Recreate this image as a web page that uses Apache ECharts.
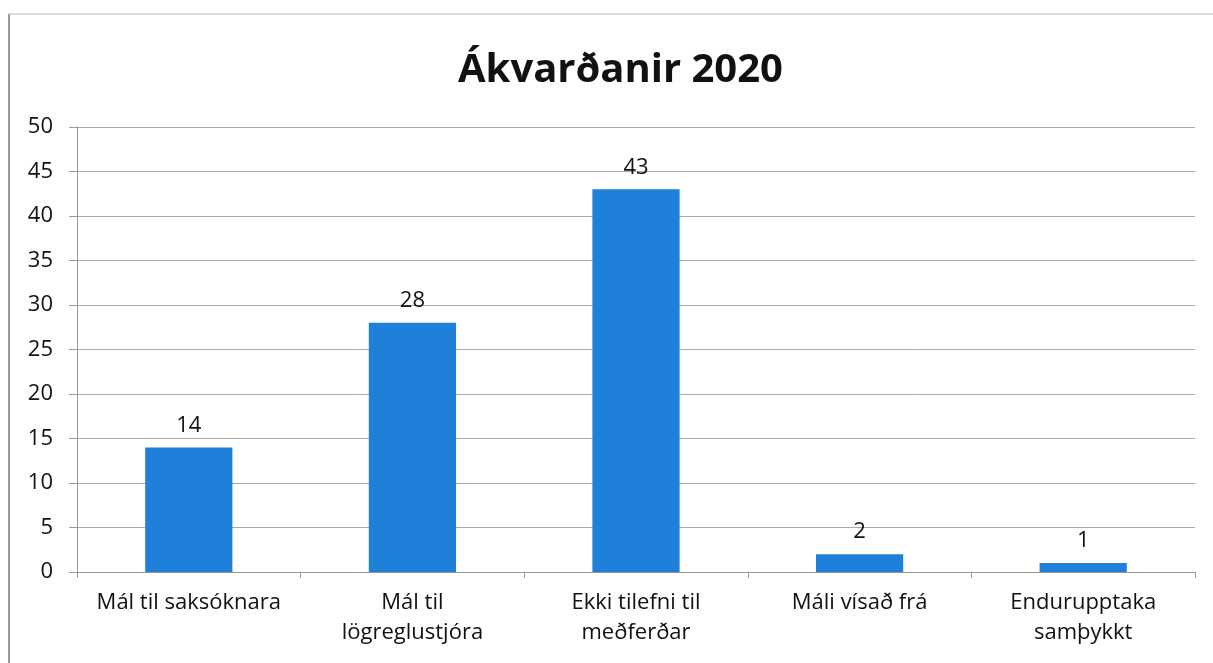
<!DOCTYPE html>
<html>
<head>
<meta charset="utf-8">
<script src="https://cdn.jsdelivr.net/npm/echarts@6/dist/echarts.min.js"></script>
<style>
html, body { margin: 0; padding: 0; background: #fff; }
#chart { width: 1213px; height: 663px; }
</style>
</head>
<body>
<div id="chart"></div>
<script>
var categories = ['Mál til saksóknara', 'Mál til\nlögreglustjóra', 'Ekki tilefni til\nmeðferðar', 'Máli vísað frá', 'Endurupptaka\nsamþykkt'];
var values = [14, 28, 43, 2, 1];
var titleText = 'Ákvarðanir 2020';

var chart = echarts.init(document.getElementById('chart'));
var font = '"Open Sans", "Noto Sans", sans-serif';

var option = {
  animation: false,
  title: {
    text: titleText,
    left: 453,
    top: 46,
    textStyle: { fontFamily: font, fontSize: 40, fontWeight: 'bold', color: '#111' }
  },
  graphic: [
    { type: 'line', shape: { x1: 9, y1: 14, x2: 1213, y2: 14 }, style: { stroke: '#ddd', lineWidth: 2 } },
    { type: 'line', shape: { x1: 9, y1: 14, x2: 9, y2: 663 }, style: { stroke: '#999', lineWidth: 2 } }
  ],
  grid: { left: 77, right: 18, top: 127, bottom: 91 },
  xAxis: {
    type: 'category',
    data: categories,
    axisLine: { lineStyle: { color: '#999' } },
    axisTick: { show: true, length: 6, lineStyle: { color: '#999' } },
    axisLabel: { interval: 0, hideOverlap: false, fontFamily: font, fontSize: 22, color: '#111', margin: 16, lineHeight: 30 }
  },
  yAxis: {
    type: 'value',
    min: 0,
    max: 50,
    interval: 5,
    axisLine: { show: true, lineStyle: { color: '#999' } },
    axisTick: { show: true, length: 8, lineStyle: { color: '#999' } },
    axisLabel: { fontFamily: font, fontSize: 22, color: '#111', margin: 24 },
    splitLine: { lineStyle: { color: '#aaa' } }
  },
  series: [{
    type: 'bar',
    data: values,
    barWidth: '39%',
    itemStyle: { color: '#1e80d8' },
    label: { show: true, position: 'top', distance: 11, fontFamily: font, fontSize: 22, color: '#111' }
  }]
};

chart.setOption(option);
</script>
</body>
</html>
